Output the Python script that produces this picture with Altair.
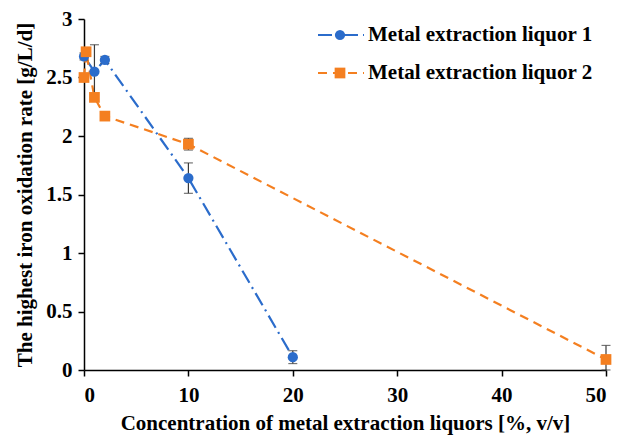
import altair as alt
import pandas as pd

# Series 1: Metal extraction liquor 1
x1 = [0, 1, 2, 10, 20]
y1 = [2.68, 2.55, 2.65, 1.64, 0.11]
e1 = [0.03, 0.23, 0.03, 0.13, 0.055]
# Series 2: Metal extraction liquor 2
x2 = [0, 0.2, 1, 2, 10, 50]
y2 = [2.50, 2.72, 2.33, 2.17, 1.93, 0.09]
e2 = [0.03, 0.03, 0.03, 0.03, 0.05, 0.12]

names = ["Metal extraction liquor 1", "Metal extraction liquor 2"]
x_ticks = [0, 10, 20, 30, 40, 50]
y_ticks = [0, 0.5, 1, 1.5, 2, 2.5, 3]

BLUE = "#2B6CCB"
ORANGE = "#F47F20"
ERR = "#3a3a3a"
FONT = "'Liberation Serif', 'Times New Roman', serif"
FS = 21

def frame(xs, ys, es):
    return pd.DataFrame({
        "x": xs, "y": ys,
        "lo": [max(0, y - e) for y, e in zip(ys, es)],
        "hi": [y + e for y, e in zip(ys, es)],
    })

d1 = frame(x1, y1, e1)
d2 = frame(x2, y2, e2)

X = alt.X("x:Q", scale=alt.Scale(domain=[0, 50], nice=False),
          axis=alt.Axis(values=x_ticks, title="Concentration of metal extraction liquors [%, v/v]"))
Y = alt.Y("y:Q", scale=alt.Scale(domain=[0, 3], nice=False),
          axis=alt.Axis(values=y_ticks, format="~g", title="The highest iron oxidation rate [g/L/d]"))

dash1 = [14, 5, 2, 5]
dash2 = [9, 6]

line1 = alt.Chart(d1).mark_line(color=BLUE, strokeDash=dash1, strokeWidth=2.2).encode(x=X, y=Y)
line2 = alt.Chart(d2).mark_line(color=ORANGE, strokeDash=dash2, strokeWidth=2.2).encode(x=X, y=Y)

def errbars(d):
    r = alt.Chart(d).mark_rule(color=ERR, strokeWidth=1.2).encode(x="x:Q", y="lo:Q", y2="hi:Q")
    tlo = alt.Chart(d).mark_tick(color=ERR, orient="horizontal", size=9, thickness=1.2).encode(x="x:Q", y="lo:Q")
    thi = alt.Chart(d).mark_tick(color=ERR, orient="horizontal", size=9, thickness=1.2).encode(x="x:Q", y="hi:Q")
    return r + tlo + thi

pts1 = alt.Chart(d1).mark_point(shape="circle", filled=True, color=BLUE, size=105, opacity=1).encode(x=X, y=Y)
pts2 = alt.Chart(d2).mark_point(shape="square", filled=True, color=ORANGE, size=115, opacity=1).encode(x=X, y=Y)

# Legend (drawn manually, in pixel space of the plot)
def legend_row(name, color, dash, shape, size, ypix):
    src = pd.DataFrame({"label": [name]})
    base = alt.Chart(src)
    seg = base.mark_rule(color=color, strokeDash=dash, strokeWidth=2.2).encode(
        x=alt.value(234), x2=alt.value(280), y=alt.value(ypix))
    mk = base.mark_point(shape=shape, filled=True, color=color, size=size, opacity=1).encode(
        x=alt.value(256), y=alt.value(ypix))
    tx = base.mark_text(align="left", baseline="middle", font=FONT, fontSize=FS,
                        fontWeight="bold", color="black").encode(
        x=alt.value(284), y=alt.value(ypix), text="label:N")
    return seg + mk + tx

leg1 = legend_row(names[0], BLUE, dash1, "circle", 105, 16)
leg2 = legend_row(names[1], ORANGE, dash2, "square", 115, 54)

chart = alt.layer(
    line1, line2, errbars(d1), errbars(d2), pts1, pts2, leg1, leg2
).properties(
    width=522, height=351,
    autosize=alt.AutoSizeParams(type="none"),
    padding={"left": 76, "top": 11, "right": 6, "bottom": 65},
).configure_view(stroke=None).configure_axis(
    grid=False,
    domainColor="black", domainWidth=1.5,
    tickColor="black", tickWidth=1.5, tickSize=6,
    labelFont=FONT, labelFontSize=FS, labelFontWeight="bold", labelColor="black",
    titleFont=FONT, titleFontSize=FS, titleFontWeight="bold", titleColor="black",
).configure_axisX(labelPadding=8, titlePadding=7).configure_axisY(labelPadding=6, titlePadding=10)

chart.save("out.html", embed_options={"renderer": "svg", "actions": False})
